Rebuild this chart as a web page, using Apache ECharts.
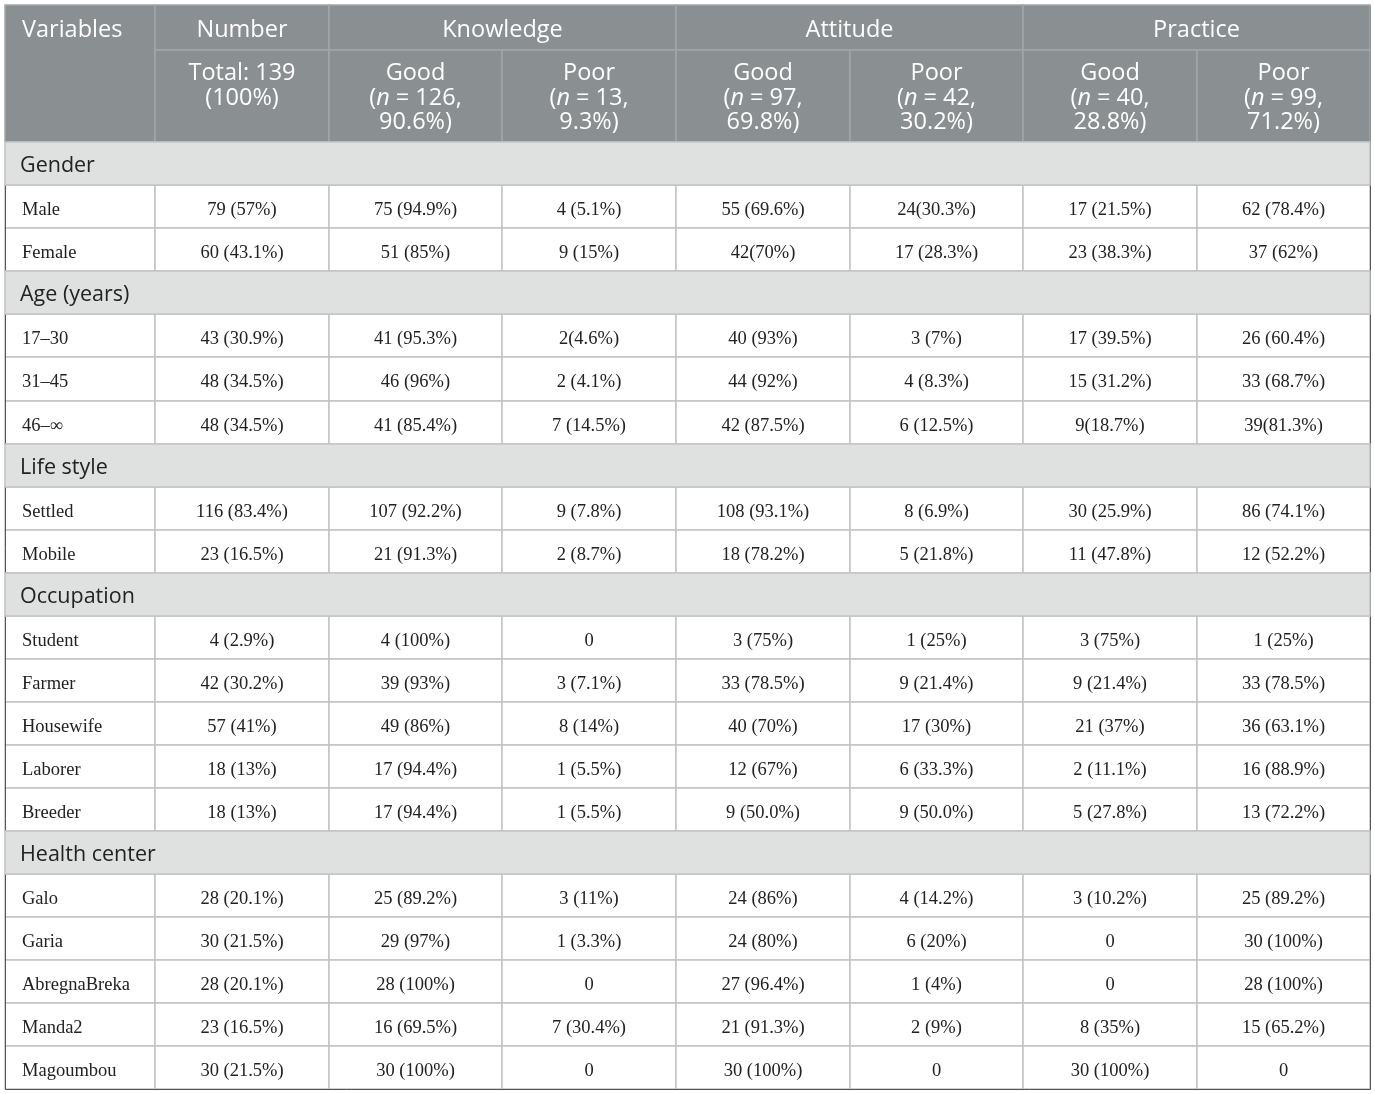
<!DOCTYPE html>
<html>
<head>
<meta charset="utf-8">
<script src="https://cdn.jsdelivr.net/npm/echarts@6.0.0/dist/echarts.min.js"></script>
<style>
html, body { margin: 0; padding: 0; background: #fff; }
#main { width: 1375px; height: 1094px; }
</style>
</head>
<body>
<div id="main"></div>
<script>
// header texts
var topHeaders = ['Number', 'Knowledge', 'Attitude', 'Practice'];
var subHeaders = [
    'Total: 139\n(100%)',
    'Good\n({i|n} = 126,\n90.6%)', 'Poor\n({i|n} = 13,\n9.3%)',
    'Good\n({i|n} = 97,\n69.8%)', 'Poor\n({i|n} = 42,\n30.2%)',
    'Good\n({i|n} = 40,\n28.8%)', 'Poor\n({i|n} = 99,\n71.2%)'
];

// row groups
var groupNames = ['Gender', 'Age (years)', 'Life style', 'Occupation', 'Health center'];
var groupRows = [
    ['Male', 'Female'],
    ['17\u201330', '31\u201345', '46\u2013\u221e'],
    ['Settled', 'Mobile'],
    ['Student', 'Farmer', 'Housewife', 'Laborer', 'Breeder'],
    ['Galo', 'Garia', 'AbregnaBreka', 'Manda2', 'Magoumbou']
];

// column values (one entry per data row, top to bottom)
var numberCol = ['79 (57%)', '60 (43.1%)', '43 (30.9%)', '48 (34.5%)', '48 (34.5%)', '116 (83.4%)', '23 (16.5%)',
    '4 (2.9%)', '42 (30.2%)', '57 (41%)', '18 (13%)', '18 (13%)',
    '28 (20.1%)', '30 (21.5%)', '28 (20.1%)', '23 (16.5%)', '30 (21.5%)'];
var knowGood = ['75 (94.9%)', '51 (85%)', '41 (95.3%)', '46 (96%)', '41 (85.4%)', '107 (92.2%)', '21 (91.3%)',
    '4 (100%)', '39 (93%)', '49 (86%)', '17 (94.4%)', '17 (94.4%)',
    '25 (89.2%)', '29 (97%)', '28 (100%)', '16 (69.5%)', '30 (100%)'];
var knowPoor = ['4 (5.1%)', '9 (15%)', '2(4.6%)', '2 (4.1%)', '7 (14.5%)', '9 (7.8%)', '2 (8.7%)',
    '0', '3 (7.1%)', '8 (14%)', '1 (5.5%)', '1 (5.5%)',
    '3 (11%)', '1 (3.3%)', '0', '7 (30.4%)', '0'];
var attGood = ['55 (69.6%)', '42(70%)', '40 (93%)', '44 (92%)', '42 (87.5%)', '108 (93.1%)', '18 (78.2%)',
    '3 (75%)', '33 (78.5%)', '40 (70%)', '12 (67%)', '9 (50.0%)',
    '24 (86%)', '24 (80%)', '27 (96.4%)', '21 (91.3%)', '30 (100%)'];
var attPoor = ['24(30.3%)', '17 (28.3%)', '3 (7%)', '4 (8.3%)', '6 (12.5%)', '8 (6.9%)', '5 (21.8%)',
    '1 (25%)', '9 (21.4%)', '17 (30%)', '6 (33.3%)', '9 (50.0%)',
    '4 (14.2%)', '6 (20%)', '1 (4%)', '2 (9%)', '0'];
var pracGood = ['17 (21.5%)', '23 (38.3%)', '17 (39.5%)', '15 (31.2%)', '9(18.7%)', '30 (25.9%)', '11 (47.8%)',
    '3 (75%)', '9 (21.4%)', '21 (37%)', '2 (11.1%)', '5 (27.8%)',
    '3 (10.2%)', '0', '0', '8 (35%)', '30 (100%)'];
var pracPoor = ['62 (78.4%)', '37 (62%)', '26 (60.4%)', '33 (68.7%)', '39(81.3%)', '86 (74.1%)', '12 (52.2%)',
    '1 (25%)', '33 (78.5%)', '36 (63.1%)', '16 (88.9%)', '13 (72.2%)',
    '25 (89.2%)', '30 (100%)', '28 (100%)', '15 (65.2%)', '0'];

var valueCols = [numberCol, knowGood, knowPoor, attGood, attPoor, pracGood, pracPoor];

var headBg = '#8a8f91';
var headLine = '#a3a7a9';
var sectionBg = '#dfe0e0';
var gridLine = '#c3c3c3';

var headLabel = {
    color: '#fff',
    fontSize: 23.5,
    lineHeight: 24.5,
    fontFamily: 'Open Sans',
    overflow: 'none',
    position: 'insideTop',
    distance: 0,
    padding: [13, 0, 0, 0],
    rich: { i: { fontStyle: 'italic', color: '#fff', fontSize: 23.5, lineHeight: 24.5, fontFamily: 'Open Sans' } }
};

var cells = [];
// header row 1
cells.push({
    coord: [0, [0, 1]], mergeCells: true, value: 'Variables',
    itemStyle: { color: headBg, borderColor: headLine },
    label: Object.assign({}, headLabel, { position: 'insideTopLeft', padding: [13, 0, 0, 17] })
});
cells.push({ coord: [1, 0], value: topHeaders[0], itemStyle: { color: headBg, borderColor: headLine }, label: headLabel });
for (var h = 1; h < topHeaders.length; h++) {
    cells.push({
        coord: [[2 * h, 2 * h + 1], 0], mergeCells: true, value: topHeaders[h],
        itemStyle: { color: headBg, borderColor: headLine }, label: headLabel
    });
}
// header row 2
for (var s = 0; s < subHeaders.length; s++) {
    cells.push({
        coord: [s + 1, 1], value: subHeaders[s],
        itemStyle: { color: headBg, borderColor: headLine },
        label: Object.assign({}, headLabel, { padding: [11.5, 0, 0, 0] })
    });
}

// body rows
var r = 2, k = 0;
for (var g = 0; g < groupNames.length; g++) {
    cells.push({
        coord: [[0, 7], r], mergeCells: true, value: groupNames[g],
        itemStyle: { color: sectionBg },
        label: {
            position: 'insideTopLeft', distance: 0, padding: [13, 0, 0, 15],
            fontFamily: 'Open Sans', fontSize: 21.5, lineHeight: 22, color: '#222'
        }
    });
    r++;
    for (var j = 0; j < groupRows[g].length; j++) {
        cells.push({
            coord: [0, r], value: groupRows[g][j],
            label: { position: 'insideTopLeft', padding: [15, 0, 0, 17] }
        });
        for (var c = 0; c < valueCols.length; c++) {
            cells.push({ coord: [c + 1, r], value: valueCols[c][k] });
        }
        r++;
        k++;
    }
}

var xCols = [{ value: 'c0', size: 150 }];
for (var c2 = 1; c2 < 8; c2++) xCols.push({ value: 'c' + c2 });
var yRows = [{ value: 'h0', size: 45 }, { value: 'h1', size: 92 }];
for (var y = 2; y < r; y++) yRows.push({ value: 'r' + y });

var chart = echarts.init(document.getElementById('main'));
chart.setOption({
    backgroundColor: '#fff',
    matrix: {
        left: 5,
        top: 5,
        width: 1365,
        height: 1084,
        x: { show: false, data: xCols },
        y: { show: false, data: yRows },
        body: {
            data: cells,
            itemStyle: { color: '#fff', borderColor: gridLine, borderWidth: 1.5 },
            label: {
                position: 'insideTop', distance: 0, padding: [15, 0, 0, 0],
                color: '#222', fontSize: 18.5, lineHeight: 20, fontFamily: 'Liberation Serif', overflow: 'none'
            }
        }
    }
});
</script>
</body>
</html>
